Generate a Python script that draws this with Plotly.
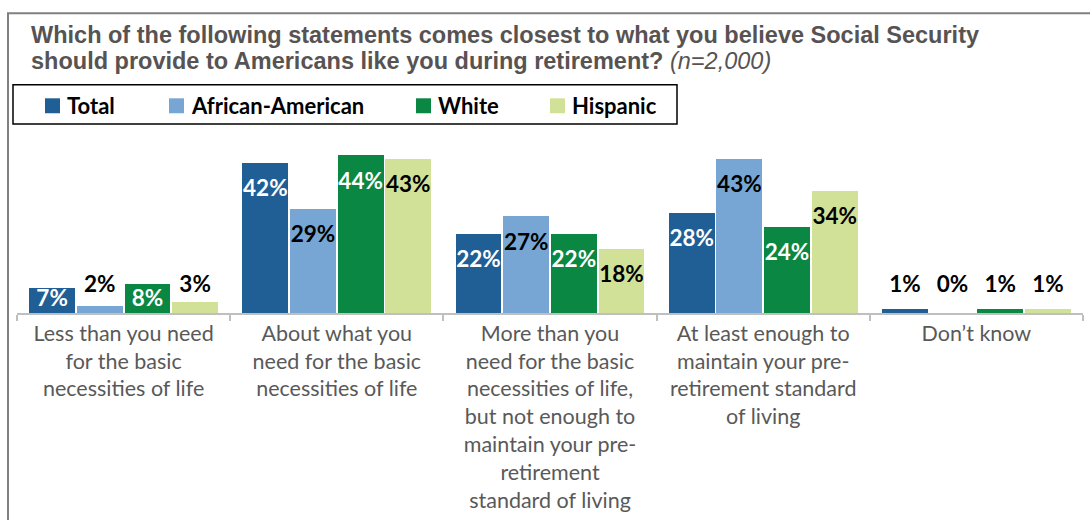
import plotly.graph_objects as go

# Survey answers (x-axis categories) and per-group percentages
categories = [
    "Less than you need<br>for the basic<br>necessities of life",
    "About what you<br>need for the basic<br>necessities of life",
    "More than you<br>need for the basic<br>necessities of life,<br>but not enough to<br>maintain your pre-<br>retirement<br>standard of living",
    "At least enough to<br>maintain your pre-<br>retirement standard<br>of living",
    "Don\u2019t know",
]
series_names = ["Total", "African-American", "White", "Hispanic"]
total = [7, 42, 22, 28, 1]
african_american = [2, 29, 27, 43, 0]
white = [8, 44, 22, 24, 1]
hispanic = [3, 43, 18, 34, 1]

series_values = [total, african_american, white, hispanic]
colors = ["#1F5F96", "#77A6D5", "#0A8742", "#D1E197"]
inside_text_colors = ["white", "black", "white", "black"]

W, H = 1090, 520
M_L, M_R, M_T, M_B = 17, 7, 133.5, 207
PLOT_W = W - M_L - M_R
PLOT_H = H - M_T - M_B


def px_x(px):
    """Page pixel x -> paper coordinate."""
    return (px - M_L) / PLOT_W


def px_y(py):
    """Page pixel y (from top) -> paper coordinate."""
    return (H - M_B - py) / PLOT_H


BAR_W = 0.215
STEP = 0.2235
LABEL_FONT = "Lato, 'Noto Sans', sans-serif"
TITLE_FONT = "'Liberation Sans', Arial, sans-serif"
TITLE_COLOR = "#575353"

fig = go.Figure()

for j, (name, vals) in enumerate(zip(series_names, series_values)):
    off = (j - 1.5) * STEP
    xs = [i + off for i in range(len(categories))]
    fig.add_trace(go.Bar(
        x=xs, y=vals, width=BAR_W, name=name, showlegend=False,
        marker=dict(color=colors[j], line=dict(width=0)),
        hoverinfo="skip",
    ))

# Value labels: near the top inside tall bars, centred in mid bars, above tiny bars
for j, vals in enumerate(series_values):
    off = (j - 1.5) * STEP
    xs, ys, cols = [], [], []
    for i, v in enumerate(vals):
        xs.append(i + off)
        if v >= 10:
            ys.append(v - 7.7)
            cols.append(inside_text_colors[j])
        elif v >= 5:
            ys.append(3.6)
            cols.append(inside_text_colors[j])
        else:
            ys.append(7.3)
            cols.append("black")
    fig.add_trace(go.Scatter(
        x=xs, y=ys, mode="text", text=[f"{v}%" for v in vals],
        textposition="middle center",
        textfont=dict(family=LABEL_FONT, size=22.5, color=cols, weight="bold"),
        showlegend=False, hoverinfo="skip",
    ))

shapes = []
annotations = []

# Outer frame around the whole chart
shapes.append(dict(type="rect", xref="paper", yref="paper",
                   x0=px_x(8), x1=px_x(1110), y0=px_y(12.3), y1=px_y(540),
                   line=dict(color="#808080", width=2), fillcolor="rgba(0,0,0,0)",
                   layer="below"))

# Two-line question title
title_lines = [
    "Which of the following statements comes closest to what you believe Social Security",
    "should provide to Americans like you during retirement? "
    "<i><span style='font-weight:normal'>(n=2,000)</span></i>",
]
for line, base_y in zip(title_lines, [41.7, 67.0]):
    annotations.append(dict(
        text=line, xref="paper", yref="paper", x=px_x(29), y=px_y(base_y + 8),
        xanchor="left", yanchor="bottom", showarrow=False, align="left",
        font=dict(family=TITLE_FONT, size=23.5, color=TITLE_COLOR, weight="bold"),
    ))

# Legend: bordered box with a colour swatch and bold name per series
LEGEND_BOX = (13, 84, 677, 123.5)
LEGEND_SWATCH_X = [45, 169, 416, 550]
SWATCH = 15
SWATCH_TOP = 97.7
shapes.append(dict(type="rect", xref="paper", yref="paper",
                   x0=px_x(LEGEND_BOX[0]), x1=px_x(LEGEND_BOX[2]),
                   y0=px_y(LEGEND_BOX[1]), y1=px_y(LEGEND_BOX[3]),
                   line=dict(color="black", width=1.5), fillcolor="white"))
for name, color, sx in zip(series_names, colors, LEGEND_SWATCH_X):
    shapes.append(dict(type="rect", xref="paper", yref="paper",
                       x0=px_x(sx), x1=px_x(sx + SWATCH),
                       y0=px_y(SWATCH_TOP), y1=px_y(SWATCH_TOP + SWATCH),
                       line=dict(width=0), fillcolor=color))
    annotations.append(dict(
        text=name, xref="paper", yref="paper", x=px_x(sx + SWATCH + 5),
        y=px_y(SWATCH_TOP + SWATCH / 2), xanchor="left", yanchor="middle",
        showarrow=False,
        font=dict(family=LABEL_FONT, size=22, color="black", weight="bold"),
    ))

fig.update_layout(
    width=W, height=H,
    margin=dict(l=M_L, r=M_R, t=M_T, b=M_B, pad=0),
    paper_bgcolor="white", plot_bgcolor="white",
    bargap=0, barmode="overlay", showlegend=False,
    shapes=shapes, annotations=annotations,
    xaxis=dict(
        range=[-0.5, 4.5], tickvals=list(range(len(categories))), ticktext=categories,
        ticks="", showline=True, linecolor="#BFBFBF", linewidth=1.5,
        showgrid=False, zeroline=False,
        minor=dict(ticks="outside", tick0=-0.5, dtick=1, ticklen=6,
                   tickcolor="#BFBFBF", tickwidth=1.5, showgrid=False),
        tickfont=dict(family=LABEL_FONT, size=21.5, color="#595959"),
        fixedrange=True,
    ),
    yaxis=dict(range=[0, 50], visible=False, showgrid=False, fixedrange=True),
)

fig.write_html("out.html")
